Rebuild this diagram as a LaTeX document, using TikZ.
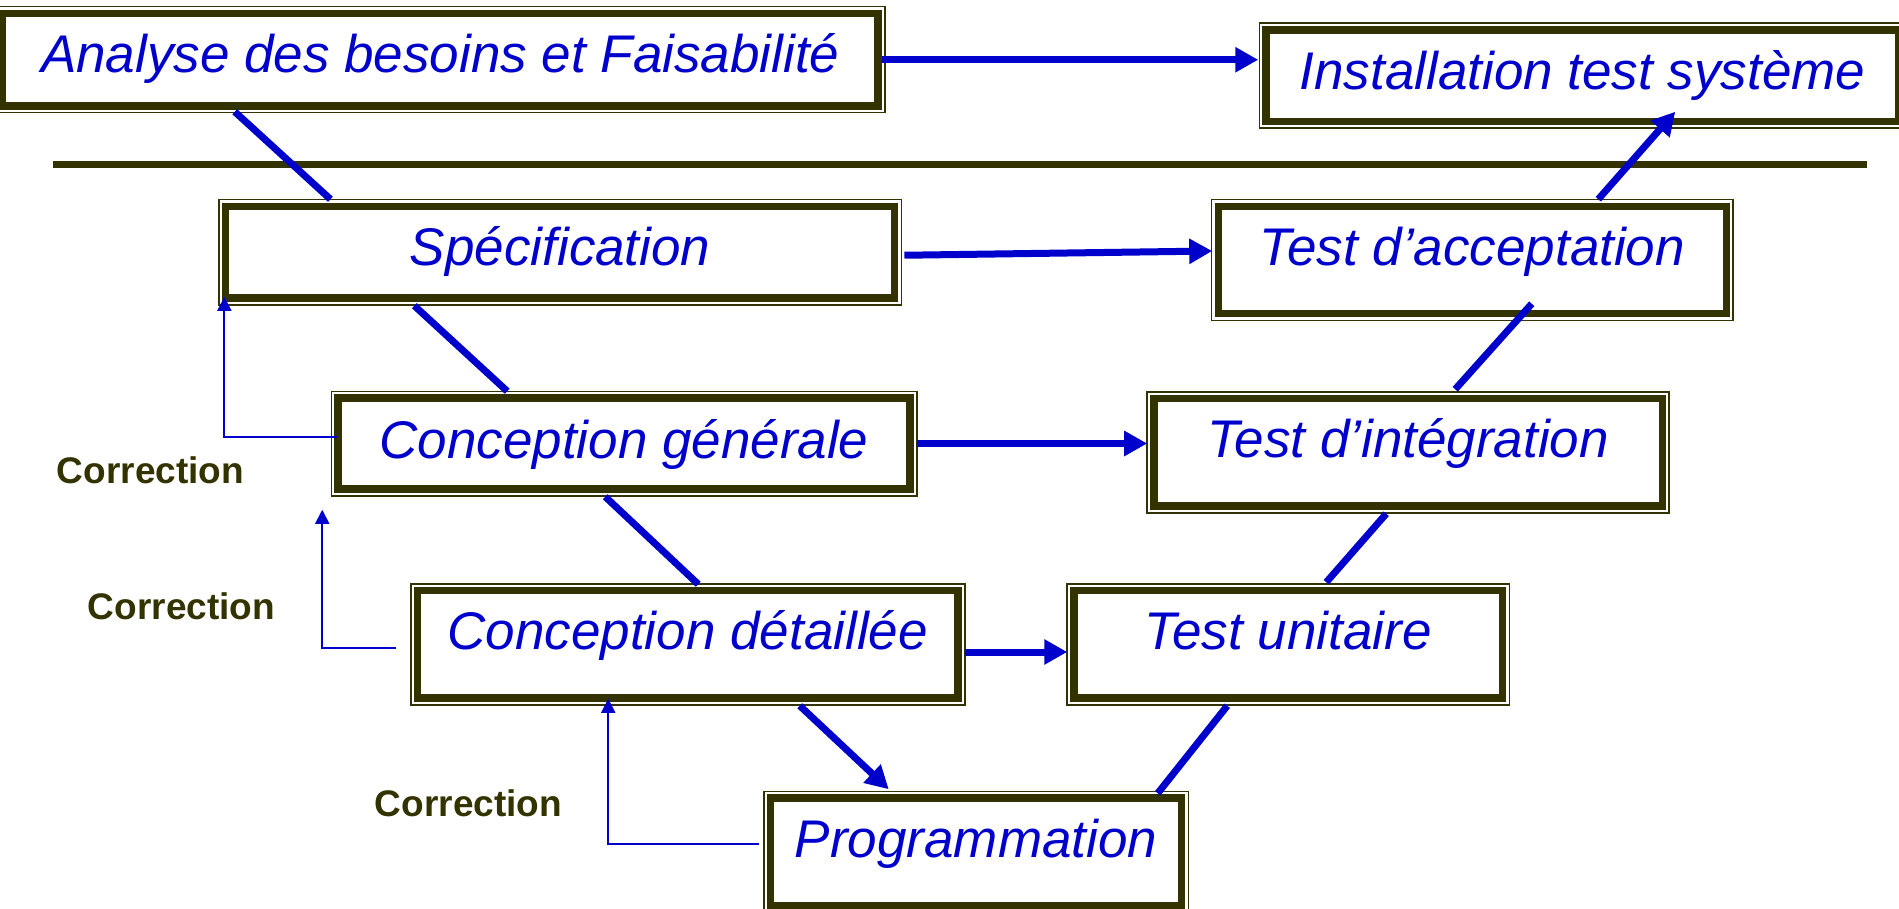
\documentclass[tikz,border=0pt]{standalone}
\usepackage{fontspec}
\setmainfont{Liberation Sans}
\usetikzlibrary{arrows.meta,calc}
\definecolor{olivedark}{HTML}{333300}
\definecolor{vblue}{HTML}{0000CC}
\tikzset{
  stage/.style={rectangle, inner sep=0pt, fill=white, draw=olivedark, line width=3.75pt,
    preaction={draw=olivedark, line width=0.75pt, double=white, double distance=6pt},
    text=vblue, font=\fontsize{26.5pt}{31pt}\selectfont\itshape},
  dims/.style n args={3}{minimum width=#1, text height=#2, text depth=#3},
  flow/.style={draw=vblue, line width=3.5pt},
  flowarrow/.style={flow, -{Triangle[length=11.5pt,width=12pt]}},
  back/.style={draw=vblue, line width=0.9pt, -{Triangle[length=7pt,width=7pt]}},
  corr/.style={anchor=base west, inner sep=0pt, text=olivedark,
    font=\fontsize{18.5pt}{22pt}\selectfont\bfseries},
  divider/.style={draw=olivedark, line width=3.75pt},
}
\begin{document}
\begin{tikzpicture}[x=0.5pt, y=-0.5pt]
\clip (0,0) rectangle (1899,909);

% stages of the V cycle
\node[stage, dims={437.75pt}{29.75pt}{16.5pt}] (ana)  at (440.25,59.75) {Analyse des besoins et Faisabilité};
\node[stage, dims={316.5pt}{29.65pt}{16.1pt}]  (inst) at (1582.5,75.75) {Installation test système};
\node[stage, dims={334.5pt}{29.25pt}{16.5pt}]  (spec) at (560.2,252.25) {Spécification};
\node[stage, dims={254pt}{29.25pt}{24.25pt}]   (tacc) at (1472.3,260) {Test d’acceptation};
\node[stage, dims={286pt}{30pt}{15.5pt}]       (cgen) at (624,443.5) {Conception générale};
\node[stage, dims={254.25pt}{29.25pt}{24.5pt}] (tint) at (1408,452.25) {Test d’intégration};
\node[stage, dims={270.25pt}{29.25pt}{24.5pt}] (cdet) at (687.75,644.25) {Conception détaillée};
\node[stage, dims={214.35pt}{29.25pt}{24.5pt}] (tuni) at (1288.15,644.25) {Test unitaire};
\node[stage, dims={205.5pt}{29.5pt}{24.5pt}]   (prog) at (976,852) {Programmation};

% horizontal divider
\coordinate (divL) at (53,164.5);
\coordinate (divR) at (1867,164.5);
\draw[divider] (divL) -- (divR);

% descending branch
\draw[flow] ($(ana.south west)+(236,2)$) -- ($(spec.north west)+(108.5,-3.5)$);
\draw[flow] ($(spec.south west)+(192.4,4)$) -- ($(cgen.north west)+(173,-3)$);
\draw[flow] ($(cgen.south west)+(271,4)$) -- ($(cdet.north west)+(284.5,-2.5)$);
\draw[flowarrow] ($(cdet.south west)+(386,4)$) -- ($(prog.north west)+(122,-5)$);

% ascending branch
\draw[flow] ($(prog.north east)+(-27.5,-1)$) -- ($(tuni.south west)+(157.2,4)$);
\draw[flow] ($(tuni.north west)+(256.2,-4.5)$) -- ($(tint.south west)+(236.2,4)$);
\draw[flow] ($(tint.north west)+(305.2,-5.5)$) -- ($(tacc.south west)+(317.2,-13.5)$);
\draw[flowarrow] ($(tacc.north west)+(383.7,-3.5)$) -- ($(inst.south west)+(413,-13.5)$);

% links between matching levels
\draw[flowarrow] (ana.east) -- ($(inst.west |- ana.east)+(-4,0)$);
\draw[flowarrow] ($(spec.east)+(6,3)$) -- ($(tacc.west)+(-2.3,-9)$);
\draw[flowarrow] ($(cgen.east)+(3,0)$) -- ($(tint.west)+(-2.8,-8.75)$);
\draw[flowarrow] ($(cdet.east)+(3,7.75)$) -- ($(tuni.west)+(-2.8,7.75)$);

% correction loops
\draw[back] ($(cgen.west)+(2.6,-6.5)$) -| ($(spec.south west)+(2.4,-5)$);
\draw[back] ($(cdet.west)+(-17.5,3.75)$) -| ($(cgen.south west)+(-12,17)$);
\draw[back] ($(prog.west)+(-7.5,-8)$) -| ($(cdet.south west)+(194.5,-3)$);

\node[corr] (corrA) at (56.5,483) {Correction};
\node[corr] (corrB) at (87.5,619) {Correction};
\node[corr] (corrC) at (374.5,816) {Correction};
\end{tikzpicture}
\end{document}
